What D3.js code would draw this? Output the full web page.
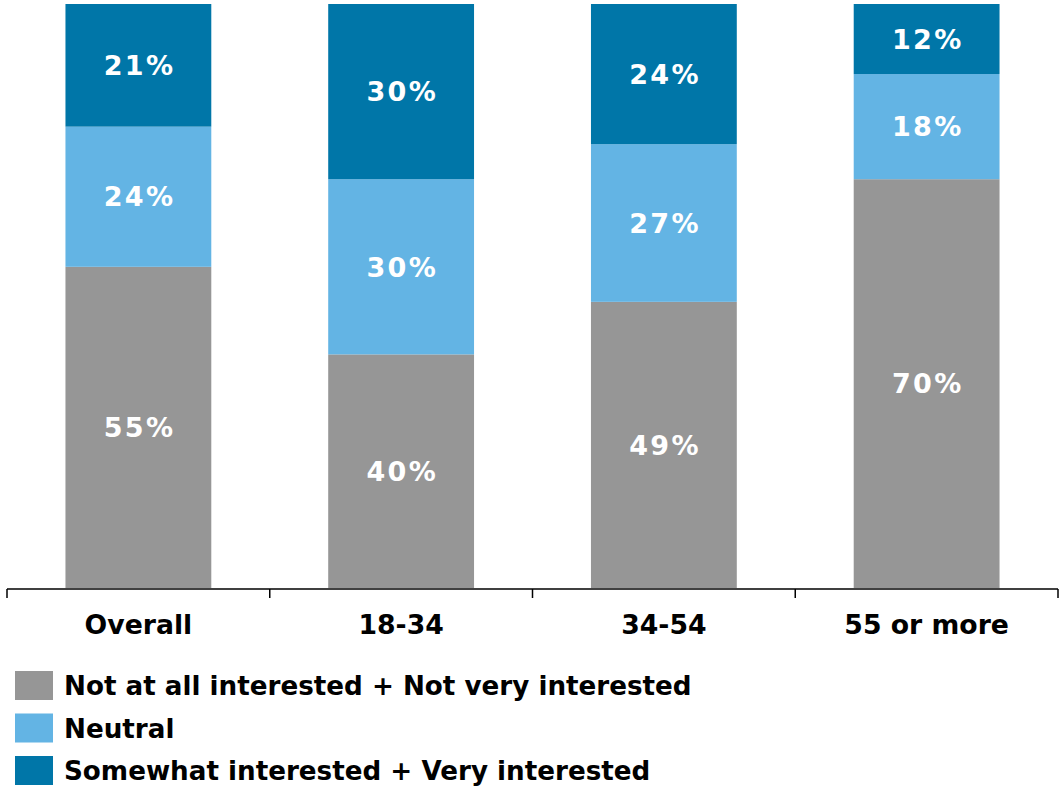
<!DOCTYPE html>
<html>
<head>
<meta charset="utf-8">
<script src="https://cdn.jsdelivr.net/npm/d3@7"></script>
<style>
  html, body { margin: 0; padding: 0; background: #fff; }
  svg { display: block; font-family: "DejaVu Sans", Verdana, sans-serif; font-weight: bold; }
</style>
</head>
<body>
<svg id="chart" width="1064" height="793"></svg>
<script>
// Interest level by age group (percent of respondents)
const categories = ["Overall", "18-34", "34-54", "55 or more"];
const seriesNames = [
  "Not at all interested + Not very interested",
  "Neutral",
  "Somewhat interested + Very interested"
];
const notInterested = [55, 40, 49, 70];
const neutral = [24, 30, 27, 18];
const interested = [21, 30, 24, 12];
const colors = ["#969696", "#63b4e4", "#0076a8"];

const seriesValues = [notInterested, neutral, interested];
const rows = categories.map((c, i) => {
  const r = { category: c };
  seriesNames.forEach((s, k) => { r[s] = seriesValues[k][i]; });
  return r;
});

const svg = d3.select("#chart");
const plot = { left: 7, right: 1058, top: 4, bottom: 588 };

const x = d3.scaleBand()
  .domain(categories)
  .range([plot.left, plot.right])
  .paddingInner(0.445)
  .paddingOuter(0.2225);

const y = d3.scaleLinear().domain([0, 100]).range([plot.bottom, plot.top]);
const color = d3.scaleOrdinal().domain(seriesNames).range(colors);

const stacked = d3.stack().keys(seriesNames)(rows);

const layers = svg.append("g").selectAll("g")
  .data(stacked)
  .join("g")
  .attr("fill", d => color(d.key));

layers.selectAll("rect")
  .data(d => d)
  .join("rect")
  .attr("x", d => x(d.data.category))
  .attr("width", x.bandwidth())
  .attr("y", d => y(d[1]))
  .attr("height", d => y(d[0]) - y(d[1]));

// Value labels, centred in each segment
layers.selectAll("text")
  .data(d => d.map(v => ({ v, key: d.key })))
  .join("text")
  .attr("x", d => x(d.v.data.category) + x.bandwidth() / 2 + 1.2)
  .attr("y", d => (y(d.v[0]) + y(d.v[1])) / 2)
  .attr("dy", "0.36em")
  .attr("text-anchor", "middle")
  .attr("fill", "#fff")
  .attr("font-size", 27)
  .attr("letter-spacing", 2.4)
  .text(d => d.v.data[d.key] + "%");

// Category axis: tick marks sit on the band boundaries
const axisG = svg.append("g").attr("transform", `translate(0,${plot.bottom + 1})`);
const boundaries = d3.range(categories.length + 1).map(i => plot.left + i * (plot.right - plot.left) / categories.length);
axisG.append("line")
  .attr("x1", plot.left).attr("x2", plot.right)
  .attr("stroke", "#000").attr("stroke-width", 1.5);
axisG.selectAll("line.tick")
  .data(boundaries)
  .join("line")
  .attr("class", "tick")
  .attr("x1", d => d).attr("x2", d => d)
  .attr("y1", 0).attr("y2", 9)
  .attr("stroke", "#000").attr("stroke-width", 1.5);
axisG.selectAll("text")
  .data(categories)
  .join("text")
  .attr("x", d => x(d) + x.bandwidth() / 2)
  .attr("y", 45)
  .attr("text-anchor", "middle")
  .attr("fill", "#000")
  .attr("font-size", 26.7)
  .text(d => d);

// Legend
const legend = svg.append("g").attr("transform", "translate(15,671)");
const item = legend.selectAll("g")
  .data(seriesNames)
  .join("g")
  .attr("transform", (d, i) => `translate(0,${i * 42.5})`);
item.append("rect")
  .attr("width", 38).attr("height", 29)
  .attr("fill", d => color(d));
item.append("text")
  .attr("x", 49).attr("y", 15)
  .attr("dy", "0.36em")
  .attr("font-size", 26.2)
  .attr("fill", "#000")
  .text(d => d);
</script>
</body>
</html>
